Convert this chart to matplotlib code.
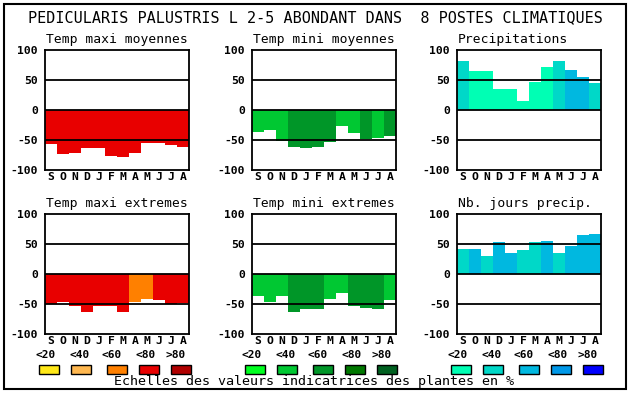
import matplotlib
matplotlib.use("Agg")
import matplotlib.pyplot as plt
from matplotlib.patches import Rectangle

# ── data ─────────────────────────────────────────────
MONTHS = ["S", "O", "N", "D", "J", "F", "M", "A", "M", "J", "J", "A"]
CLASS_LABELS = ["<20", "<40", "<60", "<80", ">80"]

RED_SCALE   = ["#FFE818", "#FFB850", "#FF8000", "#E80000", "#B00000"]
GREEN_SCALE = ["#00FF20", "#00C832", "#009628", "#007800", "#006020"]
BLUE_SCALE  = ["#00FFB4", "#00D8C8", "#00B8E0", "#0098E8", "#0000FF"]

# values (%) and class index (0..4) per month
tmax_moy     = [-56, -73, -71, -63, -64, -76, -78, -71, -55, -55, -58, -61]
tmax_moy_cls = [3, 3, 3, 3, 3, 3, 3, 3, 3, 3, 3, 3]

tmin_moy     = [-36, -34, -52, -61, -63, -61, -54, -27, -38, -48, -46, -43]
tmin_moy_cls = [1, 1, 1, 2, 2, 2, 2, 1, 1, 2, 1, 2]

precip     = [82, 65, 65, 35, 35, 15, 47, 72, 82, 67, 55, 45]
precip_cls = [1, 0, 0, 0, 0, 0, 0, 0, 1, 2, 2, 1]

tmax_ext     = [-50, -47, -54, -64, -54, -54, -63, -46, -42, -44, -50, -48]
tmax_ext_cls = [3, 3, 3, 3, 3, 3, 3, 2, 2, 3, 3, 3]

tmin_ext     = [-37, -46, -37, -63, -58, -58, -41, -32, -53, -56, -58, -43]
tmin_ext_cls = [1, 1, 1, 2, 2, 2, 1, 1, 2, 2, 2, 1]

nb_jours     = [42, 42, 30, 53, 35, 40, 53, 55, 35, 47, 65, 67]
nb_jours_cls = [1, 2, 1, 2, 2, 1, 1, 2, 1, 2, 2, 2]

TITLE = "PEDICULARIS PALUSTRIS L 2-5 ABONDANT DANS  8 POSTES CLIMATIQUES"
CAPTION = "Echelles des valeurs indicatrices des plantes en %"

# ── layout (pixels) ──────────────────────────────────
W, H = 630, 394
MONO = "DejaVu Sans Mono"

fig = plt.figure(figsize=(W / 100, H / 100), dpi=100)


def px_axes(x0, y0, x1, y1):
    return fig.add_axes([x0 / W, 1 - y1 / H, (x1 - x0) / W, (y1 - y0) / H])


def panel(x0, y0, title, vals, cls, scale):
    ax = px_axes(x0, y0, x0 + 144, y0 + 120)
    ax.bar(range(12), vals, width=1.0, color=[scale[c] for c in cls],
           linewidth=0, zorder=1)
    for y in (50, 0, -50):
        ax.axhline(y, color="black", lw=1.3, zorder=2)
    ax.set_xlim(-0.5, 11.5)
    ax.set_ylim(-100, 100)
    ax.set_xticks(range(12))
    ax.set_xticklabels(MONTHS, fontfamily=MONO, fontweight="bold", fontsize=8.2)
    ax.set_yticks([100, 50, 0, -50, -100])
    ax.set_yticklabels(["100", "50", "0", "-50", "-100"], fontfamily=MONO,
                       fontweight="bold", fontsize=8.2)
    ax.tick_params(length=0, pad=1.5, axis="x")
    ax.tick_params(length=0, pad=5, axis="y")
    for s in ax.spines.values():
        s.set_linewidth(1.3)
    fig.text((x0 + 1) / W, 1 - (y0 - 11) / H, title, fontfamily=MONO,
             fontsize=9.4, ha="left", va="center")
    return ax


panel(45, 50, "Temp maxi moyennes", tmax_moy, tmax_moy_cls, RED_SCALE)
panel(252, 50, "Temp mini moyennes", tmin_moy, tmin_moy_cls, GREEN_SCALE)
panel(457, 50, "Precipitations", precip, precip_cls, BLUE_SCALE)
panel(45, 214, "Temp maxi extremes", tmax_ext, tmax_ext_cls, RED_SCALE)
panel(252, 214, "Temp mini extremes", tmin_ext, tmin_ext_cls, GREEN_SCALE)
panel(457, 214, "Nb. jours precip.", nb_jours, nb_jours_cls, BLUE_SCALE)

# main title
fig.text(315 / W, 1 - 18 / H, TITLE, fontfamily=MONO, fontsize=10.9,
         ha="center", va="center")

# legend swatches
overlay = fig.add_axes([0, 0, 1, 1])
overlay.set_xlim(0, W)
overlay.set_ylim(H, 0)
overlay.axis("off")

offsets = [0, 32, 68, 100, 132]
label_offsets = [-4, 31, 63, 96, 126]
for start, scale in ((39, RED_SCALE), (245, GREEN_SCALE), (451, BLUE_SCALE)):
    for off, loff, col, lab in zip(offsets, label_offsets, scale, CLASS_LABELS):
        overlay.add_patch(Rectangle((start + off, 365), 20, 9, facecolor=col,
                                    edgecolor="black", lw=1.0))
        overlay.text(start + loff, 355, lab, fontfamily=MONO, fontweight="bold",
                     fontsize=8, ha="left", va="center")

overlay.text(314, 381, CAPTION, fontfamily=MONO, fontsize=9.6,
             ha="center", va="center")

# outer frame
overlay.add_patch(Rectangle((4, 4), 622, 385, facecolor="none",
                            edgecolor="black", lw=1.5))

fig.savefig("out.png", dpi=100)
